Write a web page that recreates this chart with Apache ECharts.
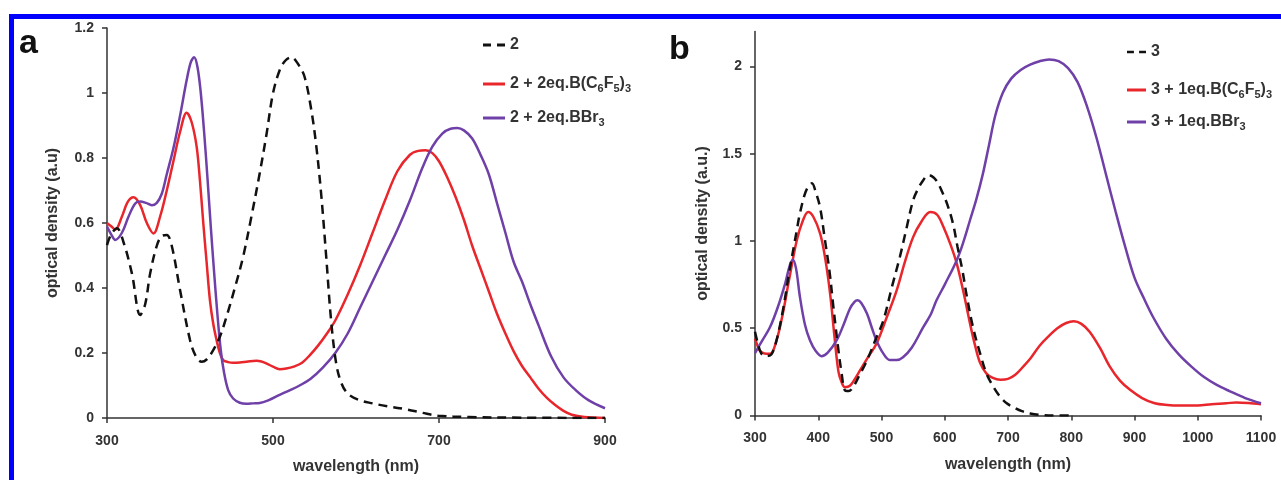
<!DOCTYPE html>
<html>
<head>
<meta charset="utf-8">
<script src="https://cdn.jsdelivr.net/npm/echarts@6/dist/echarts.min.js"></script>
<style>
html,body{margin:0;padding:0;background:#fff;}
#chart{width:1281px;height:480px;}
</style>
</head>
<body>
<div id="chart"></div>
<script>
// ---------- Panel a data ----------
const wlA_2 = [300,305,312,320,330,340,346,352,360,366,372,378,388,400,407,414,420,428,436,444,454,464,474,484,492,500,508,515,522,530,538,546,552,558,564,570,576,582,590,603,620,638,662,680,699,736,800,900];
const odA_2 = [0.532,0.565,0.584,0.54,0.445,0.317,0.35,0.445,0.53,0.56,0.563,0.53,0.394,0.24,0.19,0.173,0.18,0.209,0.25,0.312,0.40,0.496,0.62,0.753,0.87,0.999,1.07,1.10,1.11,1.09,1.05,0.95,0.84,0.69,0.50,0.30,0.17,0.11,0.075,0.056,0.045,0.036,0.026,0.016,0.007,0.003,0.001,0];

const wlA_BC = [300,305,310,318,325,332,340,348,356,364,372,380,388,396,402,408,412,416,420,424,428,432,436,440,446,452,460,470,480,486,492,500,508,516,525,535,545,555,565,575,590,605,620,635,650,665,675,684,692,700,710,720,730,740,750,760,770,780,790,800,810,820,830,840,850,860,875,900];
const odA_BC = [0.60,0.59,0.58,0.62,0.665,0.679,0.655,0.60,0.568,0.62,0.70,0.79,0.88,0.939,0.91,0.835,0.73,0.60,0.48,0.363,0.29,0.24,0.20,0.178,0.172,0.170,0.171,0.174,0.176,0.174,0.168,0.158,0.150,0.152,0.158,0.17,0.195,0.225,0.26,0.30,0.38,0.47,0.57,0.67,0.76,0.81,0.822,0.824,0.815,0.79,0.74,0.68,0.61,0.53,0.46,0.39,0.32,0.26,0.205,0.16,0.125,0.09,0.062,0.04,0.022,0.01,0.003,0];

const wlA_BBr = [300,305,310,318,326,334,340,347,354,360,366,372,380,388,396,401,405,409,413,417,421,425,429,433,437,441,446,452,460,468,476,484,495,508,520,532,545,560,575,590,605,620,635,650,665,680,692,704,714,722,730,740,750,760,770,780,790,800,810,820,835,850,865,880,900];
const odA_BBr = [0.589,0.565,0.548,0.57,0.62,0.66,0.666,0.662,0.655,0.662,0.69,0.75,0.83,0.93,1.04,1.095,1.11,1.08,1.00,0.88,0.74,0.59,0.45,0.32,0.21,0.14,0.086,0.06,0.047,0.044,0.045,0.046,0.055,0.071,0.085,0.10,0.12,0.155,0.20,0.26,0.34,0.42,0.50,0.58,0.67,0.77,0.835,0.875,0.89,0.892,0.885,0.86,0.81,0.75,0.66,0.57,0.48,0.42,0.35,0.285,0.19,0.125,0.085,0.055,0.03];

// ---------- Panel b data ----------
const wlB_3 = [300,304,310,318,326,334,344,354,362,366,370,378,384,390,396,403,410,418,424,431,437,442,448,455,465,477,490,503,516,529,540,550,558,566,573,580,588,596,604,613,620,628,635,645,656,666,676,686,698,710,722,735,750,770,800];
const odB_3 = [0.48,0.42,0.355,0.34,0.35,0.43,0.60,0.82,0.98,1.06,1.14,1.26,1.31,1.33,1.28,1.19,1.02,0.82,0.62,0.40,0.24,0.145,0.14,0.162,0.23,0.315,0.43,0.545,0.73,0.908,1.08,1.233,1.30,1.348,1.375,1.37,1.34,1.28,1.21,1.10,0.97,0.83,0.68,0.50,0.354,0.24,0.17,0.115,0.07,0.045,0.025,0.012,0.004,0,0];

const wlB_BC = [300,304,308,315,324,334,344,354,366,376,384,392,403,411,419,426,432,437,442,450,458,466,478,492,508,524,537,550,563,577,588,598,609,619,630,640,648,656,666,676,688,700,712,724,736,750,764,778,792,804,816,829,845,861,877,893,912,932,952,971,1000,1022,1045,1061,1080,1100];
const odB_BC = [0.44,0.40,0.37,0.355,0.354,0.43,0.584,0.78,1.003,1.12,1.166,1.14,1.042,0.90,0.69,0.44,0.25,0.19,0.162,0.17,0.21,0.258,0.33,0.411,0.56,0.717,0.88,1.022,1.11,1.166,1.15,1.08,0.98,0.87,0.70,0.526,0.40,0.30,0.24,0.215,0.205,0.21,0.235,0.28,0.33,0.40,0.453,0.50,0.53,0.54,0.525,0.48,0.39,0.28,0.20,0.147,0.10,0.07,0.06,0.057,0.058,0.065,0.07,0.075,0.072,0.065];

const wlB_BBr = [300,310,324,336,348,355,360,365,371,379,387,396,405,415,429,440,450,457,462,468,477,485,492,502,513,524,534,548,566,578,587,600,619,630,640,650,660,670,680,692,705,720,735,750,765,780,795,810,825,840,855,870,885,900,915,930,950,970,990,1010,1030,1050,1075,1100];
const odB_BBr = [0.357,0.42,0.508,0.62,0.76,0.86,0.893,0.84,0.68,0.52,0.43,0.37,0.34,0.36,0.43,0.52,0.612,0.65,0.66,0.645,0.584,0.50,0.43,0.36,0.318,0.318,0.334,0.39,0.506,0.58,0.66,0.75,0.89,1.0,1.12,1.24,1.38,1.55,1.72,1.85,1.93,1.98,2.01,2.03,2.04,2.03,1.99,1.91,1.77,1.59,1.38,1.17,0.97,0.79,0.67,0.56,0.44,0.35,0.28,0.22,0.175,0.14,0.10,0.07];

// ---------- ticks & names ----------
const xTicksA = [300,500,700,900];
const yTicksA = [0,0.2,0.4,0.6,0.8,1,1.2];
const xTicksB = [300,400,500,600,700,800,900,1000,1100];
const yTicksB = [0,0.5,1,1.5,2];
const namesA = ['2','2 + 2eq.B(C6F5)3','2 + 2eq.BBr3'];
const namesB = ['3','3 + 1eq.B(C6F5)3','3 + 1eq.BBr3'];
const richNames = {
  '2':'2',
  '2 + 2eq.B(C6F5)3':'2 + 2eq.B(C{s|6}F{s|5}){s|3}',
  '2 + 2eq.BBr3':'2 + 2eq.BBr{s|3}',
  '3':'3',
  '3 + 1eq.B(C6F5)3':'3 + 1eq.B(C{s|6}F{s|5}){s|3}',
  '3 + 1eq.BBr3':'3 + 1eq.BBr{s|3}'
};

const zip = (w, v) => w.map((x, i) => [x, v[i]]);
const RED = '#e8262b', PURPLE = '#6f40a8', BLACK = '#111111';
const FONT = '"Liberation Sans", Arial, sans-serif';
const AX = '#333333';
const ICON_SOLID = 'rect';
const ICON_DASH = 'path://M0,0 H8 V3 H0 Z M14,0 H22 V3 H14 Z';

function xAxis(grid, min, max, ticks, gap) {
  return {
    type: 'value', gridIndex: grid, min: min, max: max,
    name: 'wavelength (nm)', nameLocation: 'middle', nameGap: gap,
    nameTextStyle: {fontFamily: FONT, fontWeight: 'bold', fontSize: 16, color: AX},
    axisLine: {lineStyle: {color: AX, width: 1.5}},
    axisTick: {show: true, length: 5, lineStyle: {color: AX, width: 1.5}, customValues: ticks},
    axisLabel: {fontFamily: FONT, fontWeight: 'bold', fontSize: 14, color: AX, margin: 16,
      customValues: ticks, formatter: v => String(v)},
    splitLine: {show: false}
  };
}
function yAxis(grid, max, ticks, name, gap) {
  return {
    type: 'value', gridIndex: grid, min: 0, max: max,
    name: name, nameLocation: 'middle', nameGap: gap, nameRotate: 90,
    nameTextStyle: {fontFamily: FONT, fontWeight: 'bold', fontSize: 16, color: AX},
    axisLine: {show: true, lineStyle: {color: AX, width: 1.5}},
    axisTick: {show: true, length: 5, lineStyle: {color: AX, width: 1.5}, customValues: ticks},
    axisLabel: {fontFamily: FONT, fontWeight: 'bold', fontSize: 14, color: AX, margin: 13,
      customValues: ticks, formatter: v => String(v)},
    splitLine: {show: false}
  };
}
function line(name, data, color, xi, dashed) {
  return {
    type: 'line', name: name, xAxisIndex: xi, yAxisIndex: xi,
    data: data, smooth: 0.35, symbol: 'none', showSymbol: false,
    lineStyle: {color: color, width: 2.5, type: dashed ? [9, 6] : 'solid'},
    itemStyle: {color: color},
    z: dashed ? 3 : 2, animation: false
  };
}
function mkLegend(name, left, top, w, icon) {
  return {
    show: true, data: [name], left: left, top: top, orient: 'vertical',
    icon: icon, itemWidth: w, itemHeight: 3, padding: 0, selectedMode: false,
    formatter: n => richNames[n],
    textStyle: {
      fontFamily: FONT, fontWeight: 'bold', fontSize: 16, color: AX, lineHeight: 20,
      rich: {s: {fontFamily: FONT, fontWeight: 'bold', fontSize: 11, color: AX, lineHeight: 11, verticalAlign: 'bottom'}}
    }
  };
}

const chart = echarts.init(document.getElementById('chart'), null, {renderer: 'canvas'});
chart.setOption({
  backgroundColor: '#ffffff',
  animation: false,
  title: [
    {text: 'a', left: 14, top: 22, textStyle: {fontFamily: FONT, fontWeight: 'bold', fontSize: 34, color: '#111'}},
    {text: 'b', left: 664, top: 28, textStyle: {fontFamily: FONT, fontWeight: 'bold', fontSize: 34, color: '#111'}}
  ],
  graphic: [
    {type: 'rect', shape: {x: 9, y: 14, width: 1272, height: 5}, style: {fill: '#0000ff'}, silent: true},
    {type: 'rect', shape: {x: 9, y: 14, width: 5, height: 466}, style: {fill: '#0000ff'}, silent: true}
  ],
  grid: [
    {left: 107, top: 28, width: 498, height: 390},
    {left: 755, top: 31.5, width: 506, height: 384}
  ],
  xAxis: [xAxis(0, 300, 900, xTicksA, 41), xAxis(1, 300, 1100, xTicksB, 41)],
  yAxis: [yAxis(0, 1.2, yTicksA, 'optical density (a.u)', 46), yAxis(1, 2.2, yTicksB, 'optical density (a.u.)', 44)],
  legend: [
    mkLegend(namesA[0], 483, 35, 22, ICON_DASH), mkLegend(namesA[1], 483, 74, 22, ICON_SOLID), mkLegend(namesA[2], 483, 108, 22, ICON_SOLID),
    mkLegend(namesB[0], 1127, 42, 19, ICON_DASH), mkLegend(namesB[1], 1127, 80, 19, ICON_SOLID), mkLegend(namesB[2], 1127, 112, 19, ICON_SOLID)
  ],
  series: [
    line(namesA[0], zip(wlA_2, odA_2), BLACK, 0, true),
    line(namesA[1], zip(wlA_BC, odA_BC), RED, 0, false),
    line(namesA[2], zip(wlA_BBr, odA_BBr), PURPLE, 0, false),
    line(namesB[0], zip(wlB_3, odB_3), BLACK, 1, true),
    line(namesB[1], zip(wlB_BC, odB_BC), RED, 1, false),
    line(namesB[2], zip(wlB_BBr, odB_BBr), PURPLE, 1, false)
  ]
});
</script>
</body>
</html>
